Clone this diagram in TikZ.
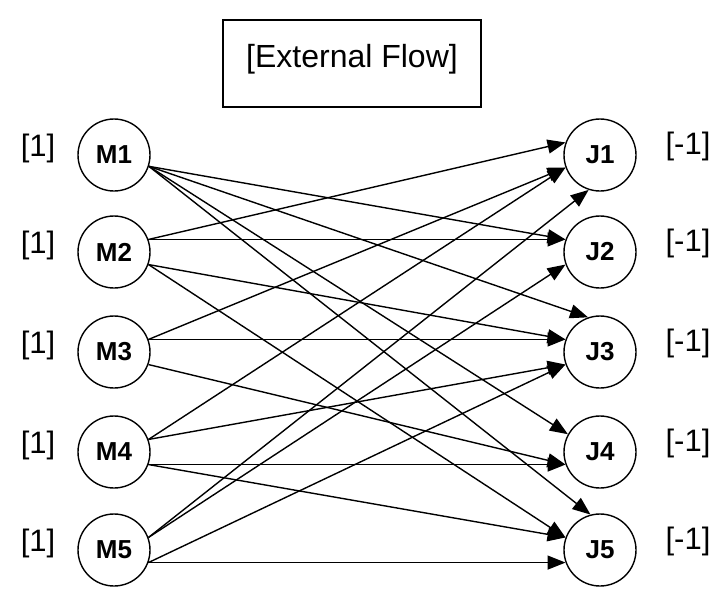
\documentclass[tikz,border=0pt]{standalone}
\usepackage{fontspec}
\setmainfont{Liberation Sans}
\usetikzlibrary{arrows.meta}
\begin{document}
\begin{tikzpicture}[x=1pt,y=-1pt,
  vert/.style={circle,draw,line width=1.4pt,minimum size=72pt,inner sep=0pt,
    font=\fontsize{26}{26}\selectfont\bfseries},
  lbl/.style={font=\fontsize{31}{31}\selectfont,inner sep=0pt},
  flow/.style={line width=1.4pt,-{Triangle[length=18pt,width=14pt]}}]
\useasboundingbox (0,0) rectangle (715,590);

% title box
\node[draw,line width=1.4pt,minimum width=258pt,minimum height=87pt,
  font=\fontsize{32}{32}\selectfont,text depth=16pt] (ext) at (352,63.5) {[External Flow]};

% machines (left) and jobs (right)
\foreach \i/\y in {1/155,2/252,3/352,4/452,5/550}{
  \node[vert] (M\i) at (114,\y) {M\i};
  \node[vert] (J\i) at (600,\y) {J\i};
  \node[lbl] (s\i) at (38,\y-7) {[1]};
  \node[lbl] (t\i) at (688,\y-9) {[-1]};
}

% assignment arcs
\draw[flow] (M1.-18) -- (J2.160);
\draw[flow] (M1.-18) -- (J3.109);
\draw[flow] (M1.-18) -- (J4.151);
\draw[flow] (M1.-18) -- (J5.105);

\draw[flow] (M2.20) -- (J1.160);
\draw[flow] (M2.20) -- (J2.160);
\draw[flow] (M2.-20) -- (J3.160);
\draw[flow] (M2.-20) -- (J5.160);

\draw[flow] (M3.20) -- (J1.200);
\draw[flow] (M3.20) -- (J3.160);
\draw[flow] (M3.-20) -- (J4.200);

\draw[flow] (M4.20) -- (J1.200);
\draw[flow] (M4.20) -- (J3.200);
\draw[flow] (M4.-20) -- (J4.200);
\draw[flow] (M4.-20) -- (J5.160);

\draw[flow] (M5.20) -- (J1.252);
\draw[flow] (M5.20) -- (J2.200);
\draw[flow] (M5.-20) -- (J3.200);
\draw[flow] (M5.-20) -- (J5.200);
\end{tikzpicture}
\end{document}
